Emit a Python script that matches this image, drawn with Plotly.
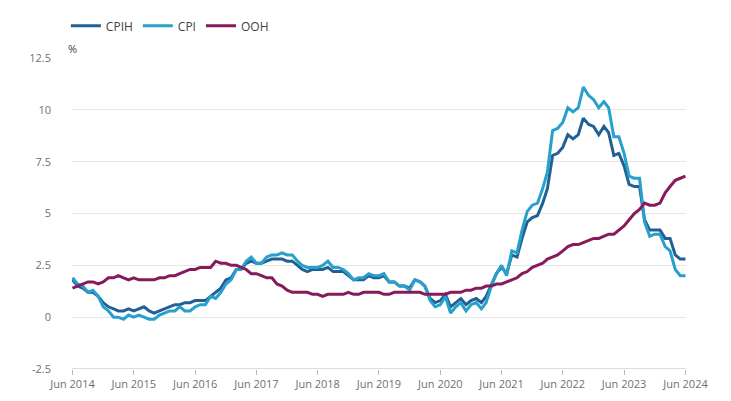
import pandas as pd
import plotly.graph_objects as go

months = pd.date_range("2014-06-01", "2024-06-01", freq="MS")

cpih = [1.8, 1.5, 1.4, 1.2, 1.2, 1.0, 0.7,
        0.5, 0.4, 0.3, 0.3, 0.4, 0.3, 0.4, 0.5, 0.3, 0.2, 0.3, 0.4,
        0.5, 0.6, 0.6, 0.7, 0.7, 0.8, 0.8, 0.8, 1.0, 1.2, 1.4, 1.8,
        1.9, 2.3, 2.3, 2.6, 2.7, 2.6, 2.6, 2.7, 2.8, 2.8, 2.8, 2.7,
        2.7, 2.5, 2.3, 2.2, 2.3, 2.3, 2.3, 2.4, 2.2, 2.2, 2.2, 2.0,
        1.8, 1.8, 1.8, 2.0, 1.9, 1.9, 2.0, 1.7, 1.7, 1.5, 1.5, 1.4,
        1.8, 1.7, 1.5, 0.9, 0.7, 0.8, 1.1, 0.5, 0.7, 0.9, 0.6, 0.8,
        0.9, 0.7, 1.0, 1.6, 2.1, 2.4, 2.1, 3.0, 2.9, 3.8, 4.6, 4.8,
        4.9, 5.5, 6.2, 7.8, 7.9, 8.2, 8.8, 8.6, 8.8, 9.6, 9.3, 9.2,
        8.8, 9.2, 8.9, 7.8, 7.9, 7.3, 6.4, 6.3, 6.3, 4.7, 4.2, 4.2,
        4.2, 3.8, 3.8, 3.0, 2.8, 2.8]

cpi = [1.9, 1.6, 1.5, 1.2, 1.3, 1.0, 0.5,
       0.3, 0.0, 0.0, -0.1, 0.1, 0.0, 0.1, 0.0, -0.1, -0.1, 0.1, 0.2,
       0.3, 0.3, 0.5, 0.3, 0.3, 0.5, 0.6, 0.6, 1.0, 0.9, 1.2, 1.6,
       1.8, 2.3, 2.3, 2.7, 2.9, 2.6, 2.6, 2.9, 3.0, 3.0, 3.1, 3.0,
       3.0, 2.7, 2.5, 2.4, 2.4, 2.4, 2.5, 2.7, 2.4, 2.4, 2.3, 2.1,
       1.8, 1.9, 1.9, 2.1, 2.0, 2.0, 2.1, 1.7, 1.7, 1.5, 1.5, 1.3,
       1.8, 1.7, 1.5, 0.8, 0.5, 0.6, 1.0, 0.2, 0.5, 0.7, 0.3, 0.6,
       0.7, 0.4, 0.7, 1.5, 2.1, 2.5, 2.0, 3.2, 3.1, 4.2, 5.1, 5.4,
       5.5, 6.2, 7.0, 9.0, 9.1, 9.4, 10.1, 9.9, 10.1, 11.1, 10.7, 10.5,
       10.1, 10.4, 10.1, 8.7, 8.7, 7.9, 6.8, 6.7, 6.7, 4.6, 3.9, 4.0,
       4.0, 3.4, 3.2, 2.3, 2.0, 2.0]

ooh = [1.4, 1.5, 1.6, 1.7, 1.7, 1.6, 1.7,
       1.9, 1.9, 2.0, 1.9, 1.8, 1.9, 1.8, 1.8, 1.8, 1.8, 1.9, 1.9,
       2.0, 2.0, 2.1, 2.2, 2.3, 2.3, 2.4, 2.4, 2.4, 2.7, 2.6, 2.6,
       2.5, 2.5, 2.4, 2.3, 2.1, 2.1, 2.0, 1.9, 1.9, 1.6, 1.5, 1.3,
       1.2, 1.2, 1.2, 1.2, 1.1, 1.1, 1.0, 1.1, 1.1, 1.1, 1.1, 1.2,
       1.1, 1.1, 1.2, 1.2, 1.2, 1.2, 1.1, 1.1, 1.2, 1.2, 1.2, 1.2,
       1.2, 1.2, 1.1, 1.1, 1.1, 1.1, 1.1, 1.2, 1.2, 1.2, 1.3, 1.3,
       1.4, 1.4, 1.5, 1.5, 1.6, 1.6, 1.7, 1.8, 1.9, 2.1, 2.2, 2.4,
       2.5, 2.6, 2.8, 2.9, 3.0, 3.2, 3.4, 3.5, 3.5, 3.6, 3.7, 3.8,
       3.8, 3.9, 4.0, 4.0, 4.2, 4.4, 4.7, 5.0, 5.2, 5.5, 5.4, 5.4,
       5.5, 6.0, 6.3, 6.6, 6.7, 6.8]

y_ticks = [-2.5, 0, 2.5, 5, 7.5, 10, 12.5]
y_labels = ["-2.5", "0", "2.5", "5", "7.5", "10", "12.5"]
x_ticks = pd.date_range("2014-06-01", "2024-06-01", freq="12MS")
x_labels = [d.strftime("Jun %Y") for d in x_ticks]

series = [("CPIH", cpih, "#206095"), ("CPI", cpi, "#27a0cc"), ("OOH", ooh, "#871a5b")]

fig = go.Figure()
for name, vals, col in series:
    fig.add_trace(go.Scatter(x=months, y=vals, name=name, mode="lines",
                             line=dict(color=col, width=3)))

fig.update_layout(
    width=731, height=401,
    margin=dict(l=64, r=53, t=50, b=40, autoexpand=False),
    paper_bgcolor="white", plot_bgcolor="white",
    font=dict(family="Open Sans", size=11, color="#707070"),
    legend=dict(orientation="h", x=-0.01, y=1.15, xanchor="left", yanchor="top",
                font=dict(size=12, color="#414042")),
    showlegend=True,
)
fig.update_xaxes(tickvals=x_ticks, ticktext=x_labels, showgrid=False,
                 ticks="outside", ticklen=5, tickcolor="#bbbbbb",
                 showline=False, range=[months[0] - pd.Timedelta(days=3), months[-1] + pd.Timedelta(days=3)])
fig.update_yaxes(tickvals=y_ticks, ticktext=y_labels, range=[-2.5, 12.5],
                 gridcolor="#e5e5e5", zeroline=False, ticks="", ticklabelstandoff=20)
fig.add_shape(type="line", xref="paper", yref="y", x0=0, x1=1, y0=-2.5, y1=-2.5,
              line=dict(color="#bbbbbb", width=1))
fig.add_annotation(text="%", xref="paper", yref="paper", x=0, y=1.0,
                   xanchor="center", yanchor="bottom", showarrow=False,
                   font=dict(size=11, color="#414042"))

fig.write_html("out.html")
